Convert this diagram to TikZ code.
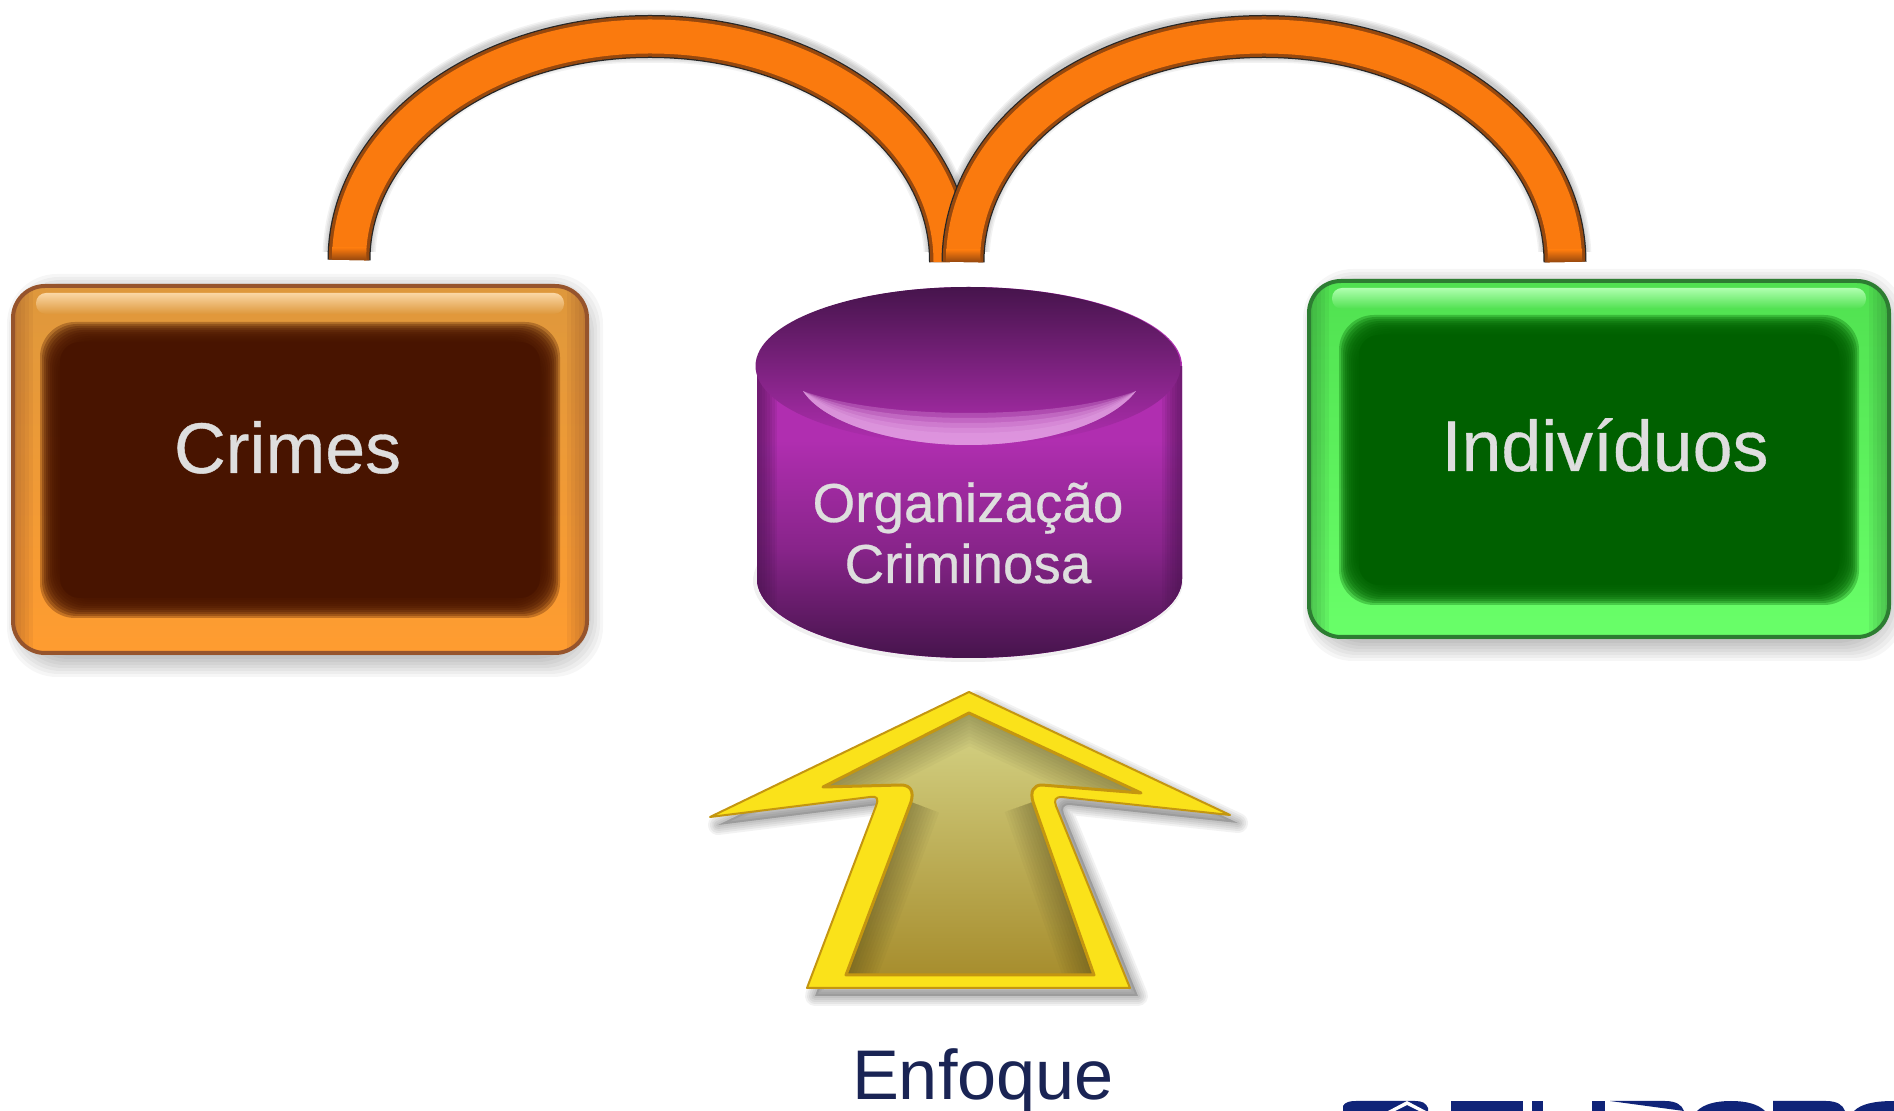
\documentclass[tikz,border=0pt]{standalone}
\usepackage{fontspec}
\setmainfont{Liberation Sans}
\newfontfamily\emboss[FakeBold=0.5]{Liberation Sans}
\definecolor{crime_dark}{RGB}{72,20,0}
\definecolor{crime_top}{RGB}{222,152,60}
\definecolor{crime_bot}{RGB}{255,156,48}
\definecolor{crime_edge}{RGB}{150,84,44}
\definecolor{crime_glow}{RGB}{250,215,165}
\definecolor{ind_dark}{RGB}{0,96,0}
\definecolor{ind_top}{RGB}{80,225,80}
\definecolor{ind_bot}{RGB}{105,255,105}
\definecolor{ind_edge}{RGB}{45,125,50}
\definecolor{ind_glow}{RGB}{175,255,175}
\definecolor{org_dark}{RGB}{70,20,76}
\definecolor{org_mid}{RGB}{176,46,176}
\definecolor{org_glow}{RGB}{236,175,236}
\definecolor{arch_orange}{RGB}{250,122,14}
\definecolor{arch_brown}{RGB}{150,72,14}
\definecolor{arrow_yellow}{RGB}{250,226,26}
\definecolor{arrow_edge}{RGB}{196,150,16}
\definecolor{arrow_top}{RGB}{216,216,140}
\definecolor{arrow_bot}{RGB}{166,140,44}
\definecolor{label_gray}{RGB}{222,222,222}
\definecolor{focus_navy}{RGB}{26,36,84}
\definecolor{logo_navy}{RGB}{16,36,120}
% soft edged rectangle: x0,y0,x1,y1,colour
\newcommand\softrect[5]{%
  \foreach \i in {0,...,9}
    \fill[#5,opacity=0.3,rounded corners=3.5mm] (#1+\i*2,#2+\i*2) rectangle (#3-\i*2,#4-\i*2);
  \fill[#5,rounded corners=2mm] (#1+20,#2+20) rectangle (#3-20,#4-20);
}
% drop shadow of a box
\newcommand\softshadow[4]{%
  \foreach \i in {0,...,7}
    \fill[black,opacity=0.035,rounded corners=5mm] (#1-6+\i*2,#2-12+\i*3) rectangle (#3+16-\i*3,#4+24-\i*3);
}
% darker rim inside a box
\newcommand\softrim[5]{%
  \begin{scope}
    \clip[rounded corners=3.2mm] (#1,#2) rectangle (#3,#4);
    \foreach \w in {0.8,1.6,2.4,3.2,4.0}
      \draw[#5,opacity=0.10,line width=\w mm] (#1,#2) -- (#1,#4) (#3,#2) -- (#3,#4);
  \end{scope}
}
\newcommand\archleft{(crimes_up) .. controls (349,136.6) and (484,36.5) .. (top_left) .. controls (816,36.5) and (951,136.6) .. (org_upl)}
\newcommand\archright{(org_upr) .. controls (963,136.6) and (1098,36.5) .. (top_right) .. controls (1430,36.5) and (1565,136.6) .. (ind_up)}
\newcommand\cylbody{(757,366) -- (757,579) arc[start angle=180,end angle=360,x radius=21.25mm,y radius=7.9mm] -- (1182,366) arc[start angle=0,end angle=180,x radius=21.25mm,y radius=7.9mm] -- cycle}
\newcommand\arrowout{(969,692) -- (1230,815) -- (1062,797) .. controls (1055,797) and (1054,800) .. (1056,806) -- (1130,988) -- (807,988) -- (876,806) .. controls (879,798) and (877,796) .. (870,797) -- (710,817) -- cycle}
\newcommand\arrowin{(969,713) -- (1141,793) -- (1042,785) .. controls (1033,785) and (1030,792) .. (1033,802) -- (1094,975) -- (846,975) -- (911,802) .. controls (914,792) and (911,785) .. (901,785) -- (823,787) -- cycle}

\begin{document}
\begin{tikzpicture}[x=0.1mm,y=-0.1mm]
    \tikzstyle{boxlabel}=[text=label_gray,font=\emboss\fontsize{20.4}{22}\selectfont,inner sep=0pt,anchor=base]
    \tikzstyle{orglabel}=[text=label_gray,font=\emboss\fontsize{15.6}{17.6}\selectfont,inner sep=0pt,anchor=base]
    \tikzstyle{crimebox}=[rectangle,rounded corners=3.2mm,minimum width=57.4mm,minimum height=36.7mm,draw=crime_edge,line width=0.4mm,top color=crime_top,bottom color=crime_bot]
    \tikzstyle{indbox}=[rectangle,rounded corners=3.2mm,minimum width=58mm,minimum height=35.6mm,draw=ind_edge,line width=0.4mm,top color=ind_top,bottom color=ind_bot]
    \tikzstyle{archline}=[line cap=butt]

    \useasboundingbox (0,0) rectangle (1894,1111);
    \fill[white] (0,0) rectangle (1894,1111);

    \coordinate (crimes_up) at (349,260);
    \coordinate (org_upl) at (950.5,262);
    \coordinate (org_upr) at (963,262);
    \coordinate (ind_up) at (1565,262);
    \coordinate (top_left) at (650,36.5);
    \coordinate (top_right) at (1264,36.5);

    % arches
    \foreach \w in {4.4,4.7,5.0,5.3}
      \draw[archline,black,opacity=0.05,line width=\w mm,yshift=0.5mm] \archleft;
    \foreach \w in {4.4,4.7,5.0,5.3}
      \draw[archline,black,opacity=0.05,line width=\w mm,yshift=0.5mm] \archright;
    \fill[white] (300,252) rectangle (1620,285);
    \draw[archline,black!85,line width=4.3mm] \archleft;
    \draw[archline,arch_brown,line width=4.05mm] \archleft;
    \draw[archline,arch_orange,line width=3.4mm] \archleft;
    \draw[archline,black!85,line width=4.3mm] \archright;
    \draw[archline,arch_brown,line width=4.05mm] \archright;
    \draw[archline,arch_orange,line width=3.4mm] \archright;
    \foreach \x/\y in {349/260,963/262,1565/262}
      \shade[top color=arch_orange,bottom color=arch_brown] (\x-17,\y-12) rectangle (\x+17,\y);

    % crimes box
    \softshadow{13}{286}{587}{653}
    \node[crimebox] (crimes) at (300,469.5) {};
    \softrim{13}{286}{587}{653}{crime_edge}
    \shade[top color=crime_glow,bottom color=crime_top,rounded corners=1mm] (36,293) rectangle (564,314);
    \softrect{40}{322}{560}{618}{crime_dark}
    \node[boxlabel] (crimes_txt) at (287.5,473) {Crimes};

    % individuos box
    \softshadow{1309}{281}{1889}{637}
    \node[indbox] (ind) at (1599,459) {};
    \softrim{1309}{281}{1889}{637}{ind_edge}
    \shade[top color=ind_glow,bottom color=ind_top,rounded corners=1mm] (1332,288) rectangle (1866,309);
    \softrect{1339}{315}{1859}{605}{ind_dark}
    \node[boxlabel] (ind_txt) at (1605,471) {Indivíduos};

    % cylinder
    \fill[black,opacity=0.06] (968,581) ellipse [x radius=21.5mm,y radius=8.1mm];
    \fill[org_mid] \cylbody;
    \shade[top color=org_mid,bottom color=org_dark,middle color=org_mid!62!org_dark] (757,440) -- (757,579) arc[start angle=180,end angle=360,x radius=21.25mm,y radius=7.9mm] -- (1182,440) -- cycle;
    \begin{scope}
      \clip \cylbody;
      \foreach \w in {0.5,1.0,1.5,2.0,2.5,3.0,3.5,4.0}
        \draw[org_dark,opacity=0.10,line width=\w mm] (757,366) -- (757,640) (1182,366) -- (1182,640);
    \end{scope}
    \shade[top color=org_dark,bottom color=org_mid] (968,366) ellipse [x radius=21.25mm,y radius=7.9mm];
    \foreach \d in {0,5,10,15,20}
      \fill[org_glow,opacity=0.27] (803,391) .. controls (850,408+\d) and (920,413+\d) .. (968,413+\d) .. controls (1020,413+\d) and (1090,408+\d) .. (1136,391) .. controls (1110,425) and (1040,445) .. (968,445) .. controls (900,445) and (825,425) .. (803,391) -- cycle;
    \node[orglabel] (org_l1) at (968,522) {Organização};
    \node[orglabel] (org_l2) at (968,583) {Criminosa};

    % arrow
    \begin{scope}[xshift=0.8mm,yshift=-0.8mm]
      \foreach \w in {0.4,0.8,1.2,1.6,2.0}
        \draw[black,opacity=0.05,line width=\w mm,line join=round,fill=black,fill opacity=0.04] \arrowout;
    \end{scope}
    \fill[arrow_yellow] \arrowout;
    \draw[arrow_edge,line width=0.2mm,line join=round] \arrowout;
    \begin{scope}
      \clip \arrowin;
      \shade[top color=arrow_top,bottom color=arrow_bot] (800,700) rectangle (1150,980);
      \foreach \w in {0.6,1.2,1.8,2.4,3.0,3.6,4.2,4.8,5.4,6.0}
        \draw[black!70!arrow_bot,opacity=0.035,line width=\w mm] (911,802) -- (846,975) (1033,802) -- (1094,975) (823,787) -- (969,713) -- (1141,793);
    \end{scope}
    \draw[arrow_edge,line width=0.3mm,line join=round] \arrowin;
    \node[text=focus_navy,font=\fontsize{20}{22}\selectfont,inner sep=0pt,anchor=base] (enfoque) at (983,1100) {Enfoque};

    % logo, only its top edge is on the page
    \fill[logo_navy] (1343,1111) -- (1343,1106) .. controls (1345,1102) and (1350,1101) .. (1356,1101) -- (1415,1101) .. controls (1422,1101) and (1426,1103) .. (1428,1108) -- (1428,1111) -- cycle;
    \fill[white] (1388,1111) -- (1407,1101) -- (1426,1111) -- (1419,1111) -- (1407,1105) -- (1395,1111) -- cycle;
    \fill[logo_navy] (1451,1101) rectangle (1523,1111);
    \fill[logo_navy] (1532,1101) rectangle (1543,1111);
    \fill[logo_navy] (1592,1101) rectangle (1605,1111);
    \fill[logo_navy] (1610,1101) -- (1665,1101) .. controls (1676,1101) and (1682,1105) .. (1684,1111) -- cycle;
    \fill[logo_navy] (1697,1111) .. controls (1704,1104) and (1716,1101) .. (1731,1101) .. controls (1746,1101) and (1758,1104) .. (1765,1111) -- cycle;
    \fill[logo_navy] (1773,1101) -- (1826,1101) .. controls (1837,1101) and (1843,1105) .. (1845,1111) -- (1773,1111) -- cycle;
    \fill[logo_navy] (1854,1111) .. controls (1861,1104) and (1874,1101) .. (1894,1101) -- (1894,1111) -- cycle;
\end{tikzpicture}
\end{document}
